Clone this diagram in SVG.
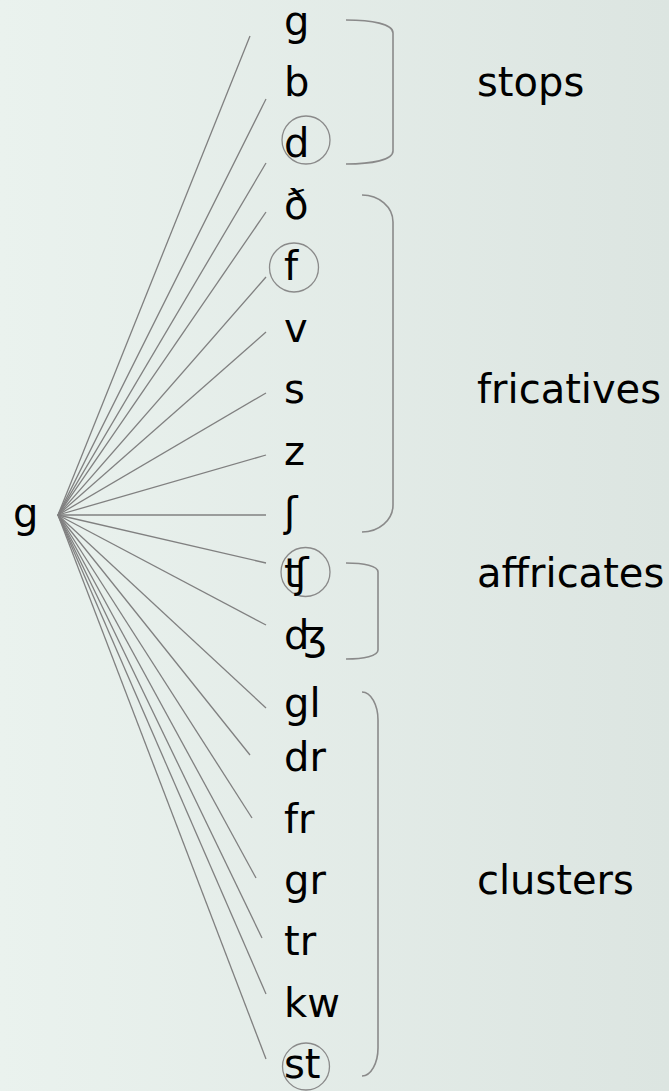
<svg xmlns="http://www.w3.org/2000/svg" width="669" height="1091" viewBox="0 0 669 1091">
  <defs>
    <linearGradient id="bg" x1="0" y1="0" x2="1" y2="0">
      <stop offset="0" stop-color="#eaf2ee"/>
      <stop offset="1" stop-color="#dce5e1"/>
    </linearGradient>
  </defs>
  <style>
    text { font-family: "DejaVu Sans", "Liberation Sans", sans-serif; font-size: 40px; fill: #000; }
    .edge { stroke: #808080; stroke-width: 1.3; fill: none; }
    .brace { stroke: #8a8a8a; stroke-width: 1.6; fill: none; }
    .ring { stroke: #8a8a8a; stroke-width: 1.3; fill: none; }
  </style>
  <rect width="669" height="1091" fill="url(#bg)"/>

  <!-- edges from the root to every onset -->
  <g id="connectors" class="edge">
    <line x1="58" y1="515" x2="250" y2="36"/>
    <line x1="58" y1="515" x2="266" y2="99"/>
    <line x1="58" y1="515" x2="266" y2="163"/>
    <line x1="58" y1="515" x2="266" y2="212"/>
    <line x1="58" y1="515" x2="266" y2="277"/>
    <line x1="58" y1="515" x2="266" y2="332"/>
    <line x1="58" y1="515" x2="266" y2="393"/>
    <line x1="58" y1="515" x2="266" y2="455"/>
    <line x1="58" y1="515" x2="266" y2="515"/>
    <line x1="58" y1="515" x2="266" y2="563"/>
    <line x1="58" y1="515" x2="266" y2="625"/>
    <line x1="58" y1="515" x2="266" y2="708"/>
    <line x1="58" y1="515" x2="250" y2="755"/>
    <line x1="58" y1="515" x2="252" y2="818"/>
    <line x1="58" y1="515" x2="256" y2="878"/>
    <line x1="58" y1="515" x2="262" y2="938"/>
    <line x1="58" y1="515" x2="266" y2="994"/>
    <line x1="58" y1="515" x2="266" y2="1059"/>
  </g>

  <g id="root"><text x="13" y="527">g</text></g>

  <g id="n-g"><text x="284" y="35">g</text></g>
  <g id="n-b"><text x="284" y="96">b</text></g>
  <g id="n-d"><circle class="ring" cx="306" cy="140" r="24"/><text x="284" y="157">d</text></g>
  <g id="n-eth"><text x="284" y="219">ð</text></g>
  <g id="n-f"><circle class="ring" cx="294" cy="267.5" r="24.5"/><text x="284" y="280">f</text></g>
  <g id="n-v"><text x="284" y="342">v</text></g>
  <g id="n-s"><text x="284" y="403">s</text></g>
  <g id="n-z"><text x="284" y="465">z</text></g>
  <g id="n-esh"><text x="284" y="526">ʃ</text></g>
  <g id="n-tesh"><circle class="ring" cx="305.5" cy="572" r="24.5"/><text x="284" y="587">ʧ</text></g>
  <g id="n-dezh"><text x="284" y="649">ʤ</text></g>
  <g id="n-gl"><text x="284" y="717">gl</text></g>
  <g id="n-dr"><text x="284" y="771">dr</text></g>
  <g id="n-fr"><text x="284" y="833">fr</text></g>
  <g id="n-gr"><text x="284" y="894">gr</text></g>
  <g id="n-tr"><text x="284" y="955">tr</text></g>
  <g id="n-kw"><text x="284" y="1017">kw</text></g>
  <g id="n-st"><circle class="ring" cx="306" cy="1066.5" r="23.5"/><text x="284" y="1078">st</text></g>

  <!-- group brackets and their labels -->
  <g id="stops">
    <path class="brace" d="M346,20 C372,20 393,24 393,33 L393,151 C393,160 372,164 346,164"/>
    <text x="477" y="96">stops</text>
  </g>
  <g id="fricatives">
    <path class="brace" d="M362,195 C379,195 393,207 393,222 L393,505 C393,520 379,532 362,532"/>
    <text x="477" y="403">fricatives</text>
  </g>
  <g id="affricates">
    <path class="brace" d="M346,563 C364,563 378,566 378,572 L378,650 C378,656 364,659 346,659"/>
    <text x="477" y="587">affricates</text>
  </g>
  <g id="clusters">
    <path class="brace" d="M362,692 C371,692 378,705 378,720 L378,1048 C378,1063 371,1076 362,1076"/>
    <text x="477" y="894">clusters</text>
  </g>
</svg>
